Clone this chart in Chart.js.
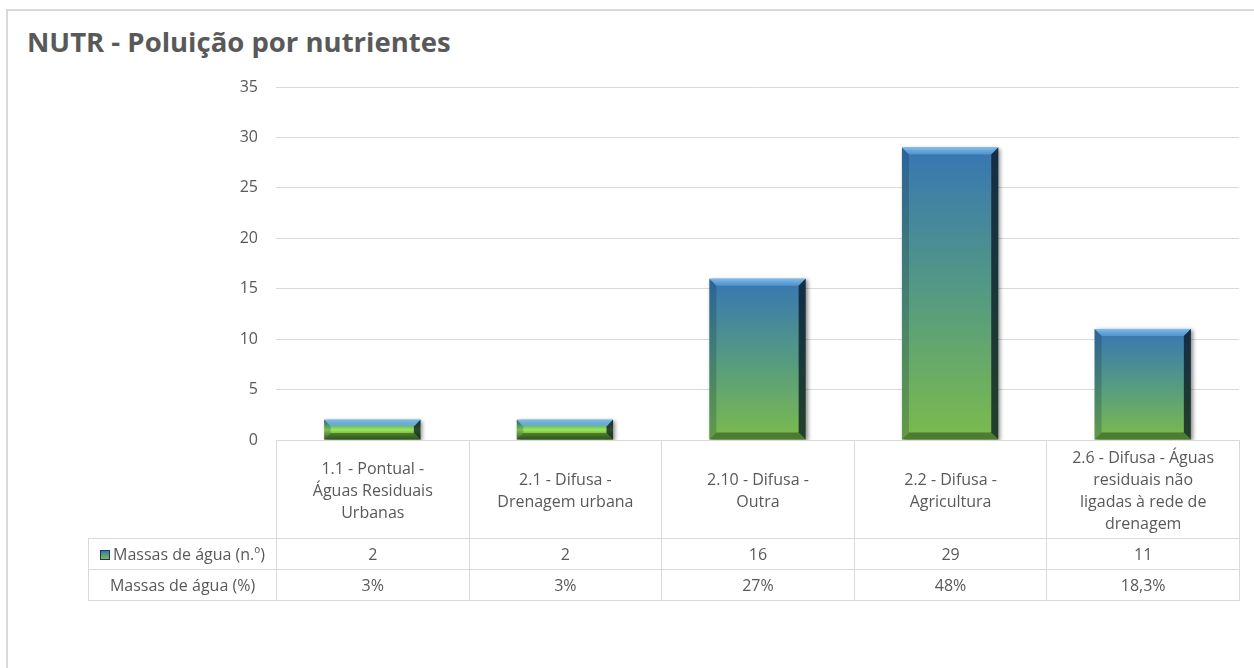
<!DOCTYPE html>
<html lang="pt">
<head>
<meta charset="utf-8">
<title>NUTR - Poluição por nutrientes</title>
<script src="https://cdn.jsdelivr.net/npm/chart.js@4"></script>
<style>
    html, body { margin: 0; padding: 0; background: #fff; overflow: hidden; }
    body { width: 1254px; height: 668px; position: relative; font-family: "Open Sans", sans-serif; color: #595959; }
    #frame { position: absolute; left: 6px; top: 9px; width: 1400px; height: 800px; border: 2px solid #d9d9d9; box-sizing: border-box; }
    #title { position: absolute; left: 27px; top: 28px; font-size: 27.5px; line-height: 28px; font-weight: bold; white-space: nowrap; }
    #nutr-chart { position: absolute; left: 0; top: 0; }
    #data-table { position: absolute; border-collapse: collapse; table-layout: fixed; font-size: 16px; }
    #data-table td { border: 1px solid #d9d9d9; text-align: center; vertical-align: middle; padding: 0; white-space: nowrap; }
    #data-table td.corner { border: none; }
    #data-table tr.head td { height: 97px; line-height: 22px; }
    #data-table tr.row td { height: 30px; line-height: 20px; }
    .key { display: inline-block; width: 8px; height: 8px; margin-right: 3px; vertical-align: 0px;
           background: linear-gradient(to bottom, #3a78b6, #7cbb4c); border: 1px solid #1d3a4a; }
</style>
</head>
<body>
<div id="frame"></div>
<div id="title">NUTR - Poluição por nutrientes</div>
<canvas id="nutr-chart" width="1254" height="668"></canvas>
<table id="data-table"></table>
<script>
const categories = [
    ["1.1 - Pontual -", "Águas Residuais", "Urbanas"],
    ["2.1 - Difusa -", "Drenagem urbana"],
    ["2.10 - Difusa -", "Outra"],
    ["2.2 - Difusa -", "Agricultura"],
    ["2.6 - Difusa - Águas", "residuais não", "ligadas à rede de", "drenagem"],
];
const waterBodyCounts = [2, 2, 16, 29, 11];
const waterBodyShares = ["3%", "3%", "27%", "48%", "18,3%"];
const seriesNames = ["Massas de água (n.º)", "Massas de água (%)"];
const yMax = 35;
const yStep = 5;

// vertical blue-to-green fill, stretched over each bar's own height
function barFill(context) {
    const chart = context.chart;
    if (context.type !== "data" || !chart.chartArea) {
        return "#5a9a7c";
    }
    const yScale = chart.scales.y;
    const top = yScale.getPixelForValue(context.raw);
    const base = yScale.getPixelForValue(0);
    const gradient = chart.ctx.createLinearGradient(0, top, 0, base);
    if (base - top < 40) {
        gradient.addColorStop(0, "#2f6fa8");
        gradient.addColorStop(0.5, "#9be853");
        gradient.addColorStop(1, "#3f6a2a");
    } else {
        gradient.addColorStop(0, "#3776b4");
        gradient.addColorStop(0.5, "#559a82");
        gradient.addColorStop(1, "#7cbb4c");
    }
    return gradient;
}

function fillPolygon(ctx, points, style) {
    ctx.beginPath();
    ctx.moveTo(points[0][0], points[0][1]);
    points.slice(1).forEach(([px, py]) => ctx.lineTo(px, py));
    ctx.closePath();
    ctx.fillStyle = style;
    ctx.fill();
}

// drop shadow plus bevelled edges on every bar
const bevelPlugin = {
    id: "bevel",
    beforeDatasetsDraw(chart) {
        const ctx = chart.ctx;
        ctx.save();
        ctx.shadowColor = "rgba(0, 0, 0, 0.45)";
        ctx.shadowBlur = 4;
        ctx.shadowOffsetX = 2;
        ctx.shadowOffsetY = 1;
    },
    afterDatasetsDraw(chart) {
        const ctx = chart.ctx;
        ctx.restore();
        chart.getDatasetMeta(0).data.forEach((bar) => {
            const { x, y, base, width } = bar.getProps(["x", "y", "base", "width"], true);
            const left = x - width / 2;
            const right = x + width / 2;
            const size = Math.min(7, (base - y) / 3);

            const topShade = ctx.createLinearGradient(0, y, 0, y + size);
            topShade.addColorStop(0, "rgba(140, 200, 245, 0.85)");
            topShade.addColorStop(1, "rgba(100, 170, 225, 0.55)");
            fillPolygon(ctx, [[left, y], [right, y], [right - size, y + size], [left + size, y + size]], topShade);
            fillPolygon(ctx, [[right, y], [right, base], [right - size, base - size], [right - size, y + size]], "rgba(8, 22, 32, 0.75)");
            fillPolygon(ctx, [[left, y], [left + size, y + size], [left + size, base - size], [left, base]], "rgba(0, 25, 50, 0.2)");
            fillPolygon(ctx, [[left, base], [left + size, base - size], [right - size, base - size], [right, base]], "rgba(20, 50, 10, 0.45)");
        });
    },
};

function buildTable(chart) {
    const xScale = chart.scales.x;
    const area = chart.chartArea;
    const tableLeft = 88;
    const edges = [area.left];
    for (let i = 1; i < categories.length; i++) {
        edges.push((xScale.getPixelForValue(i - 1) + xScale.getPixelForValue(i)) / 2);
    }
    edges.push(area.right);

    const table = document.getElementById("data-table");
    table.style.left = `${tableLeft}px`;
    table.style.top = `${area.bottom}px`;

    const cols = [`<col style="width:${area.left - tableLeft}px">`];
    for (let i = 0; i < categories.length; i++) {
        cols.push(`<col style="width:${edges[i + 1] - edges[i]}px">`);
    }

    const head = categories.map((lines) => `<td>${lines.join("<br>")}</td>`).join("");
    const counts = waterBodyCounts.map((v) => `<td>${v}</td>`).join("");
    const shares = waterBodyShares.map((v) => `<td>${v}</td>`).join("");

    table.innerHTML = `
        <colgroup>${cols.join("")}</colgroup>
        <tr class="head"><td class="corner"></td>${head}</tr>
        <tr class="row"><td><span class="key"></span>${seriesNames[0]}</td>${counts}</tr>
        <tr class="row"><td>${seriesNames[1]}</td>${shares}</tr>
    `;
}

const chart = new Chart(document.getElementById("nutr-chart"), {
    type: "bar",
    data: {
        labels: categories.map((lines) => lines.join(" ")),
        datasets: [
            {
                label: seriesNames[0],
                data: waterBodyCounts,
                backgroundColor: barFill,
                borderWidth: 0,
                barPercentage: 0.5,
                categoryPercentage: 1,
            },
        ],
    },
    options: {
        responsive: false,
        animation: false,
        layout: { padding: { top: 87, right: 15, bottom: 228, left: 0 } },
        plugins: {
            legend: { display: false },
            tooltip: { enabled: false },
        },
        scales: {
            x: { display: false },
            y: {
                min: 0,
                max: yMax,
                ticks: {
                    stepSize: yStep,
                    padding: 18,
                    color: "#595959",
                    font: { family: "Open Sans", size: 16 },
                },
                grid: { color: "#d9d9d9", drawTicks: false },
                border: { display: false },
                afterFit(scale) {
                    scale.width = 276;
                },
            },
        },
    },
    plugins: [bevelPlugin],
});

buildTable(chart);
</script>
</body>
</html>
